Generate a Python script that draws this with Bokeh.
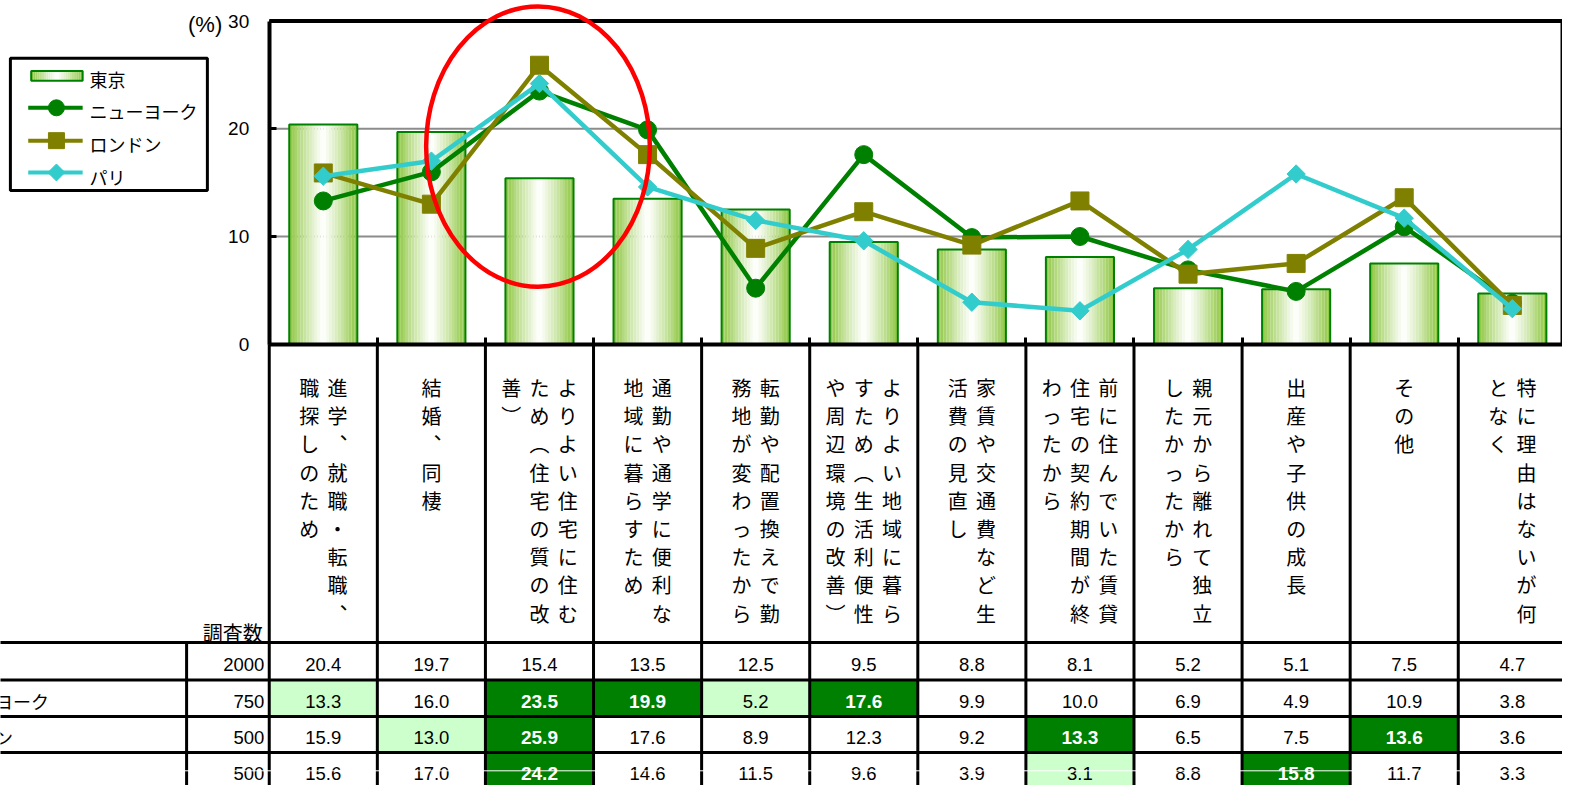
import numpy as np
from bokeh.plotting import figure
from bokeh.models import Range1d, LinearAxis, FixedTicker
from bokeh.core.properties import value
from bokeh.embed import file_html
from bokeh.resources import INLINE

# ---------------- data ----------------
categories = [
    "進学、就職・転職、職探しのため",
    "結婚、同棲",
    "よりよい住宅に住むため（住宅の質の改善）",
    "通勤や通学に便利な地域に暮らすため",
    "転勤や配置換えで勤務地が変わったから",
    "よりよい地域に暮らすため（生活利便性や周辺環境の改善）",
    "家賃や交通費など生活費の見直し",
    "前に住んでいた賃貸住宅の契約期間が終わったから",
    "親元から離れて独立したかったから",
    "出産や子供の成長",
    "その他",
    "特に理由はないが何となく",
]
series_names = ["東京", "ニューヨーク", "ロンドン", "パリ"]
tokyo = [20.4, 19.7, 15.4, 13.5, 12.5, 9.5, 8.8, 8.1, 5.2, 5.1, 7.5, 4.7]
newyork = [13.3, 16.0, 23.5, 19.9, 5.2, 17.6, 9.9, 10.0, 6.9, 4.9, 10.9, 3.8]
london = [15.9, 13.0, 25.9, 17.6, 8.9, 12.3, 9.2, 13.3, 6.5, 7.5, 13.6, 3.6]
paris = [15.6, 17.0, 24.2, 14.6, 11.5, 9.6, 3.9, 3.1, 8.8, 15.8, 11.7, 3.3]
sample_sizes = [2000, 750, 500, 500]
# table cell shading: "D" = dark green (well above Tokyo), "L" = light green (well below)
tokyo_marks = ["", "", "", "", "", "", "", "", "", "", "", ""]
newyork_marks = ["L", "", "D", "D", "L", "D", "", "", "", "", "", ""]
london_marks = ["", "L", "D", "", "", "", "", "D", "", "", "D", ""]
paris_marks = ["", "", "D", "", "", "", "", "L", "", "D", "", ""]
y_ticks = [0, 10, 20, 30]
unit_label = "(%)"
sample_header = "調査数"

# ---------------- layout ----------------
W, H = 1562, 785             # figure size (picture is taken of the figure)
REF_W, REF_H = 1578, 801     # design grid in which positions are measured
AX_X, CAT_W = 271.5, 109.2   # grid x of category edge 0, grid px per category
AX_Y, PCT_H = 350.7, 10.99   # grid y of 0 %, grid px per 1 %


def fx(px):
    return (px - AX_X) / CAT_W


def fy(py):
    return (AX_Y - py) / PCT_H


JP = value("Noto Sans CJK JP")
NUM = value("Liberation Sans")
NY_C, LD_C, PA_C = "#008000", "#808000", "#33CCCC"
BAR_EDGE = "#008000"
EDGE_RGB = np.array([141, 198, 63])

n_cat = len(categories)
cx = [i + 0.5 for i in range(n_cat)]

p = figure(width=W, height=H,
           x_range=Range1d(fx(0), fx(REF_W)),
           y_range=Range1d(fy(REF_H), fy(0)),
           output_backend="svg", toolbar_location=None,
           x_axis_location=None, y_axis_location=None,
           min_border=0, outline_line_color=None,
           background_fill_color="white", border_fill_color="white")
p.grid.visible = False


def grad_color(u):
    t = abs(u - 0.5) * 2
    m = t ** 1.15
    rgb = (1 - m) * np.array([255, 255, 255]) + m * EDGE_RGB
    return "#%02x%02x%02x" % tuple(int(round(c)) for c in rgb)


# grid lines + border of the plot area
grid_vals = [t for t in y_ticks if t > 0]
p.segment(x0=0, x1=fx(1577), y0=grid_vals, y1=grid_vals, line_color="#8c8c8c", line_width=2)
p.segment(x0=0, x1=fx(REF_W + 10), y0=y_ticks[-1], y1=y_ticks[-1], line_color="black", line_width=4)
p.segment(x0=fx(1577), x1=fx(1577), y0=y_ticks[0], y1=y_ticks[-1], line_color="black", line_width=2)

# ---------------- bars (Tokyo) with gradient strips ----------------
BW = 0.63
NS = 24
sx, stop, scol = [], [], []
for i, v in enumerate(tokyo):
    for s in range(NS):
        u = (s + 0.5) / NS
        sx.append(cx[i] - BW / 2 + u * BW)
        stop.append(v)
        scol.append(grad_color(u))
p.vbar(x=sx, top=stop, width=BW / NS * 1.02, fill_color=scol, line_color=None)
p.vbar(x=cx, top=tokyo, width=BW, fill_color=None, line_color=BAR_EDGE, line_width=2)

# ---------------- lines ----------------
p.line(cx, newyork, line_color=NY_C, line_width=4.5)
p.scatter(cx, newyork, marker="circle", size=18, fill_color=NY_C, line_color=NY_C)
p.line(cx, london, line_color=LD_C, line_width=4.5)
p.scatter(cx, london, marker="square", size=18, fill_color=LD_C, line_color=LD_C)
p.line(cx, paris, line_color=PA_C, line_width=4.5)
p.scatter(cx, paris, marker="square", angle=np.pi / 4, size=13, fill_color=PA_C, line_color=PA_C)

# ---------------- axes ----------------
yax = LinearAxis(fixed_location=0, bounds=(y_ticks[0], y_ticks[-1]),
                 ticker=FixedTicker(ticks=y_ticks),
                 axis_line_width=4, axis_line_color="black",
                 major_tick_in=7, major_tick_out=0, major_tick_line_width=3,
                 minor_tick_line_color=None, major_label_standoff=20,
                 major_label_text_font="Liberation Sans", major_label_text_font_size="19px",
                 major_label_text_color="black")
p.add_layout(yax, "left")
xax = LinearAxis(fixed_location=0, bounds=(0, n_cat),
                 ticker=FixedTicker(ticks=list(range(n_cat + 1))),
                 axis_line_width=4, axis_line_color="black",
                 major_tick_in=7, major_tick_out=0, major_tick_line_width=3,
                 minor_tick_line_color=None,
                 major_label_overrides={k: "" for k in range(n_cat + 1)},
                 major_label_text_font_size="0px")
p.add_layout(xax, "below")

p.text(x=[fx(224)], y=[fy(24)], text=[unit_label], text_font=NUM, text_font_size="22px",
       text_align="right", text_baseline="middle", text_color="black")

# ---------------- table ----------------
ROW_LINES = [655, 693.3, 730.7, 767.3, 805]
BOTTOM = fy(REF_H + 10)
LEFT = fx(-10)
RIGHT = fx(REF_W + 10)

series_vals = [tokyo, newyork, london, paris]
series_marks = [tokyo_marks, newyork_marks, london_marks, paris_marks]

# cell shading
ql, qr, qt, qb, qc = [], [], [], [], []
for r, marks in enumerate(series_marks):
    for i, m in enumerate(marks):
        if m:
            ql.append(i); qr.append(i + 1)
            qt.append(fy(ROW_LINES[r])); qb.append(fy(ROW_LINES[r + 1]))
            qc.append("#008000" if m == "D" else "#CCFFCC")
if ql:
    p.quad(left=ql, right=qr, top=qt, bottom=qb, fill_color=qc, line_color=None)

# numbers
for r, (vals, marks) in enumerate(zip(series_vals, series_marks)):
    ty = fy((ROW_LINES[r] + ROW_LINES[r + 1]) / 2 + 3.0)
    nx = [cx[i] for i, m in enumerate(marks) if m != "D"]
    nt = ["%.1f" % vals[i] for i, m in enumerate(marks) if m != "D"]
    p.text(x=nx, y=[ty] * len(nx), text=nt, text_font=NUM, text_font_size="18.5px",
           text_align="center", text_baseline="middle", text_color="black")
    bx = [cx[i] for i, m in enumerate(marks) if m == "D"]
    bt = ["%.1f" % vals[i] for i, m in enumerate(marks) if m == "D"]
    if bx:
        p.text(x=bx, y=[ty] * len(bx), text=bt, text_font=NUM, text_font_size="19px",
               text_font_style="bold", text_align="center", text_baseline="middle",
               text_color="white")
    # sample size + row label (row-label column is cropped at the left edge, as in the source)
    p.text(x=[fx(266.5)], y=[ty], text=[str(sample_sizes[r])], text_font=NUM,
           text_font_size="18.5px", text_align="right", text_baseline="middle", text_color="black")
    p.text(x=[fx(-60)], y=[ty], text=[series_names[r]], text_font=JP,
           text_font_size="18px", text_align="left", text_baseline="middle", text_color="black")

p.text(x=[fx(265)], y=[fy(645)], text=[sample_header], text_font=JP, text_font_size="20px",
       text_align="right", text_baseline="middle", text_color="black")

# table lines
rl = ROW_LINES[:-1]
p.segment(x0=LEFT, x1=RIGHT, y0=[fy(v) for v in rl], y1=[fy(v) for v in rl],
          line_color="black", line_width=3)
p.segment(x0=list(range(n_cat + 1)), x1=list(range(n_cat + 1)), y0=0, y1=BOTTOM,
          line_color="black", line_width=3)
p.segment(x0=fx(188), x1=fx(188), y0=fy(ROW_LINES[0]), y1=BOTTOM, line_color="black", line_width=3)

# vertical (tategaki) category labels
VMAP = {"、": "︑", "（": "︵", "）": "︶"}
COL_PITCH, ROW_PITCH, LABEL_TOP, WRAP = 28.5, 28.75, 395, 9
vx, vy, vt = [], [], []
for i, lab in enumerate(categories):
    cols = [lab[j:j + WRAP] for j in range(0, len(lab), WRAP)]
    n = len(cols)
    for c, col in enumerate(cols):
        x = cx[i] + ((n - 1) / 2 - c) * COL_PITCH / CAT_W
        for k, ch in enumerate(col):
            vx.append(x)
            vy.append(fy(LABEL_TOP + k * ROW_PITCH))
            vt.append(VMAP.get(ch, ch))
p.text(x=vx, y=vy, text=vt, text_font=JP, text_font_size="20px",
       text_align="center", text_baseline="middle", text_color="black")

# scan artefact line
p.segment(x0=LEFT, x1=RIGHT, y0=fy(786), y1=fy(786), line_color="white", line_width=1)

# ---------------- legend (drawn) ----------------
p.quad(left=fx(10), right=fx(209), top=fy(59), bottom=fy(194),
       fill_color="white", line_color="black", line_width=3)
icon_y = [77, 109.5, 143, 175.5]
label_y = [80, 112.5, 146.5, 180]
gl, gr = 31, 83
lsx_l, lsx_r, lcol = [], [], []
for s in range(NS):
    u0, u1 = s / NS, (s + 1) / NS
    lsx_l.append(fx(gl + u0 * (gr - gl)))
    lsx_r.append(fx(gl + u1 * (gr - gl)))
    lcol.append(grad_color((u0 + u1) / 2))
p.quad(left=lsx_l, right=lsx_r, top=fy(icon_y[0] - 5), bottom=fy(icon_y[0] + 5),
       fill_color=lcol, line_color=None)
p.quad(left=fx(gl), right=fx(gr), top=fy(icon_y[0] - 5), bottom=fy(icon_y[0] + 5),
       fill_color=None, line_color=BAR_EDGE, line_width=2)
for yy, col, mk, ang, sz in [(icon_y[1], NY_C, "circle", 0, 16),
                            (icon_y[2], LD_C, "square", 0, 16),
                            (icon_y[3], PA_C, "square", np.pi / 4, 12)]:
    p.segment(x0=fx(28), x1=fx(83), y0=fy(yy), y1=fy(yy), line_color=col, line_width=4)
    p.scatter([fx(56.5)], [fy(yy)], marker=mk, angle=ang, size=sz, fill_color=col, line_color=col)
p.text(x=[fx(90)] * 4, y=[fy(v) for v in label_y], text=series_names, text_font=JP,
       text_font_size="18px", text_align="left", text_baseline="middle", text_color="black")

# ---------------- highlight ellipse ----------------
p.ellipse(x=fx(543), y=fy(149), width=226 / CAT_W, height=286 / PCT_H,
          fill_color=None, line_color="#FF0000", line_width=4.5)

open("out.html", "w").write(file_html(p, INLINE))
